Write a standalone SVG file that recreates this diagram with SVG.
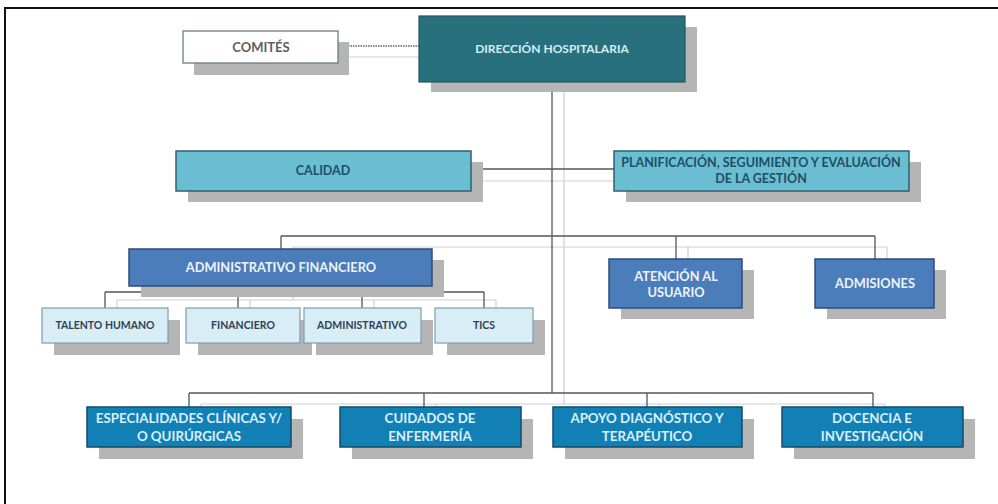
<svg xmlns="http://www.w3.org/2000/svg" width="998" height="504" viewBox="0 0 998 504">
<style>
.sh{fill:#b5b5b5}
.t{font-family:Lato,"Liberation Sans",sans-serif;font-weight:bold;text-anchor:middle}
.dk{stroke:#555;stroke-width:1.3;fill:none}
.lt{stroke:#cfcfcf;stroke-width:1.2;fill:none}
.dir{fill:#29707f;stroke:#1d5560;stroke-width:1.2}
.cy{fill:#6bbed2;stroke:#2a6273;stroke-width:1.5}
.bl{fill:#4b7dbb;stroke:#2d4c78;stroke-width:1.5}
.sb{fill:#d8edf5;stroke:#7e9cad;stroke-width:1.2}
.bt{fill:#1380b5;stroke:#0c4e6c;stroke-width:1.5}
.wt{fill:#eef3fa;font-size:12.8px}
.ct{fill:#1b4f66;font-size:12.5px}
.st{fill:#2e4255;font-size:10.5px}
.bw{fill:#d9f1fb;font-size:13.3px}
</style>
<rect width="998" height="504" fill="#fff"/>
<path d="M5,504 V8 H998" stroke="#111" stroke-width="2" fill="none"/>
<g id="connectors">
  <line class="lt" x1="348" y1="57" x2="430" y2="57"/>
  <line x1="338" y1="46" x2="419" y2="46" stroke="#8a8a8a" stroke-width="2" stroke-dasharray="1.5 1"/>
  <path class="lt" d="M564,92 V404"/>
  <path class="lt" d="M483,181 H614"/>
  <path class="lt" d="M293,247 H887 M293,247 V260 M688,247 V260 M887,247 V260"/>
  <path class="lt" d="M117,300 H496 M117,300 V309 M250,300 V309 M293,286 V300 M374,300 V309 M496,300 V309"/>
  <path class="lt" d="M201,404 H885 M201,404 V408 M436,404 V408 M659,404 V408 M885,404 V408"/>
  <path class="dk" d="M552,82 V393"/>
  <path class="dk" d="M471,169 H614"/>
  <path class="dk" d="M281,236 H875 M281,236 V249 M676,236 V259 M875,236 V259"/>
  <path d="M281,286 V292" stroke="#222" stroke-width="2.5"/>
  <path class="dk" d="M105,292 H484 M105,292 V308 M238,292 V308 M362,292 V308 M484,292 V308"/>
  <path class="dk" d="M189,393 H873 M189,393 V407 M424,393 V407 M647,393 V407 M873,393 V407"/>
</g>
<g id="comites">
  <rect class="sh" x="194" y="42" width="155" height="33"/>
  <rect x="183" y="31" width="155" height="32" fill="#fff" stroke="#6f7a80" stroke-width="1.3"/>
  <text class="t" x="261" y="52" font-size="13" fill="#5e5e5e" font-weight="normal">COMITÉS</text>
</g>
<g id="direccion">
  <rect class="sh" x="431" y="27" width="266" height="65"/>
  <rect class="dir" x="419" y="16" width="266" height="66"/>
  <text class="t" x="552" y="53" font-size="12" fill="#d5eef2">DIRECCIÓN HOSPITALARIA</text>
</g>
<g id="calidad">
  <rect class="sh" x="188" y="162" width="295" height="40"/>
  <rect class="cy" x="176" y="151" width="295" height="40"/>
  <text class="t ct" x="323" y="175">CALIDAD</text>
</g>
<g id="planificacion">
  <rect class="sh" x="626" y="162" width="295" height="40"/>
  <rect class="cy" x="614" y="151" width="295" height="40"/>
  <text class="t ct" x="761" y="167">PLANIFICACIÓN, SEGUIMIENTO Y EVALUACIÓN</text>
  <text class="t ct" x="761" y="183">DE LA GESTIÓN</text>
</g>
<g id="administrativo-financiero">
  <rect class="sh" x="141" y="260" width="303" height="37"/>
  <rect class="bl" x="129" y="249" width="303" height="37"/>
  <text class="t wt" x="281" y="272">ADMINISTRATIVO FINANCIERO</text>
</g>
<g id="atencion">
  <rect class="sh" x="621" y="270" width="133" height="49"/>
  <rect class="bl" x="609" y="259" width="133" height="49"/>
  <text class="t wt" x="676" y="281">ATENCIÓN AL</text>
  <text class="t wt" x="676" y="297">USUARIO</text>
</g>
<g id="admisiones">
  <rect class="sh" x="827" y="270" width="119" height="49"/>
  <rect class="bl" x="815" y="259" width="119" height="49"/>
  <text class="t wt" x="875" y="288">ADMISIONES</text>
</g>
<g id="talento-humano">
  <rect class="sh" x="54" y="320" width="126" height="35"/>
  <rect class="sb" x="42" y="308" width="126" height="35"/>
  <text class="t st" x="105" y="329">TALENTO HUMANO</text>
</g>
<g id="financiero">
  <rect class="sh" x="198" y="320" width="114" height="35"/>
  <rect class="sb" x="186" y="308" width="114" height="35"/>
  <text class="t st" x="243" y="329">FINANCIERO</text>
</g>
<g id="administrativo">
  <rect class="sh" x="316" y="320" width="117" height="35"/>
  <rect class="sb" x="304" y="308" width="117" height="35"/>
  <text class="t st" x="362" y="329">ADMINISTRATIVO</text>
</g>
<g id="tics">
  <rect class="sh" x="447" y="320" width="98" height="35"/>
  <rect class="sb" x="435" y="308" width="98" height="35"/>
  <text class="t st" x="484" y="329">TICS</text>
</g>
<g id="especialidades">
  <rect class="sh" x="99" y="419" width="204" height="40"/>
  <rect class="bt" x="87" y="407" width="204" height="40"/>
  <text class="t bw" x="189" y="423">ESPECIALIDADES CLÍNICAS Y/</text>
  <text class="t bw" x="189" y="441">O QUIRÚRGICAS</text>
</g>
<g id="cuidados">
  <rect class="sh" x="352" y="419" width="181" height="40"/>
  <rect class="bt" x="340" y="407" width="181" height="40"/>
  <text class="t bw" x="430" y="423">CUIDADOS DE</text>
  <text class="t bw" x="430" y="441">ENFERMERÍA</text>
</g>
<g id="apoyo">
  <rect class="sh" x="565" y="419" width="189" height="40"/>
  <rect class="bt" x="553" y="407" width="189" height="40"/>
  <text class="t bw" x="647" y="423">APOYO DIAGNÓSTICO Y</text>
  <text class="t bw" x="647" y="441">TERAPÉUTICO</text>
</g>
<g id="docencia">
  <rect class="sh" x="794" y="419" width="181" height="40"/>
  <rect class="bt" x="782" y="407" width="181" height="40"/>
  <text class="t bw" x="872" y="423">DOCENCIA E</text>
  <text class="t bw" x="872" y="441">INVESTIGACIÓN</text>
</g>
</svg>
